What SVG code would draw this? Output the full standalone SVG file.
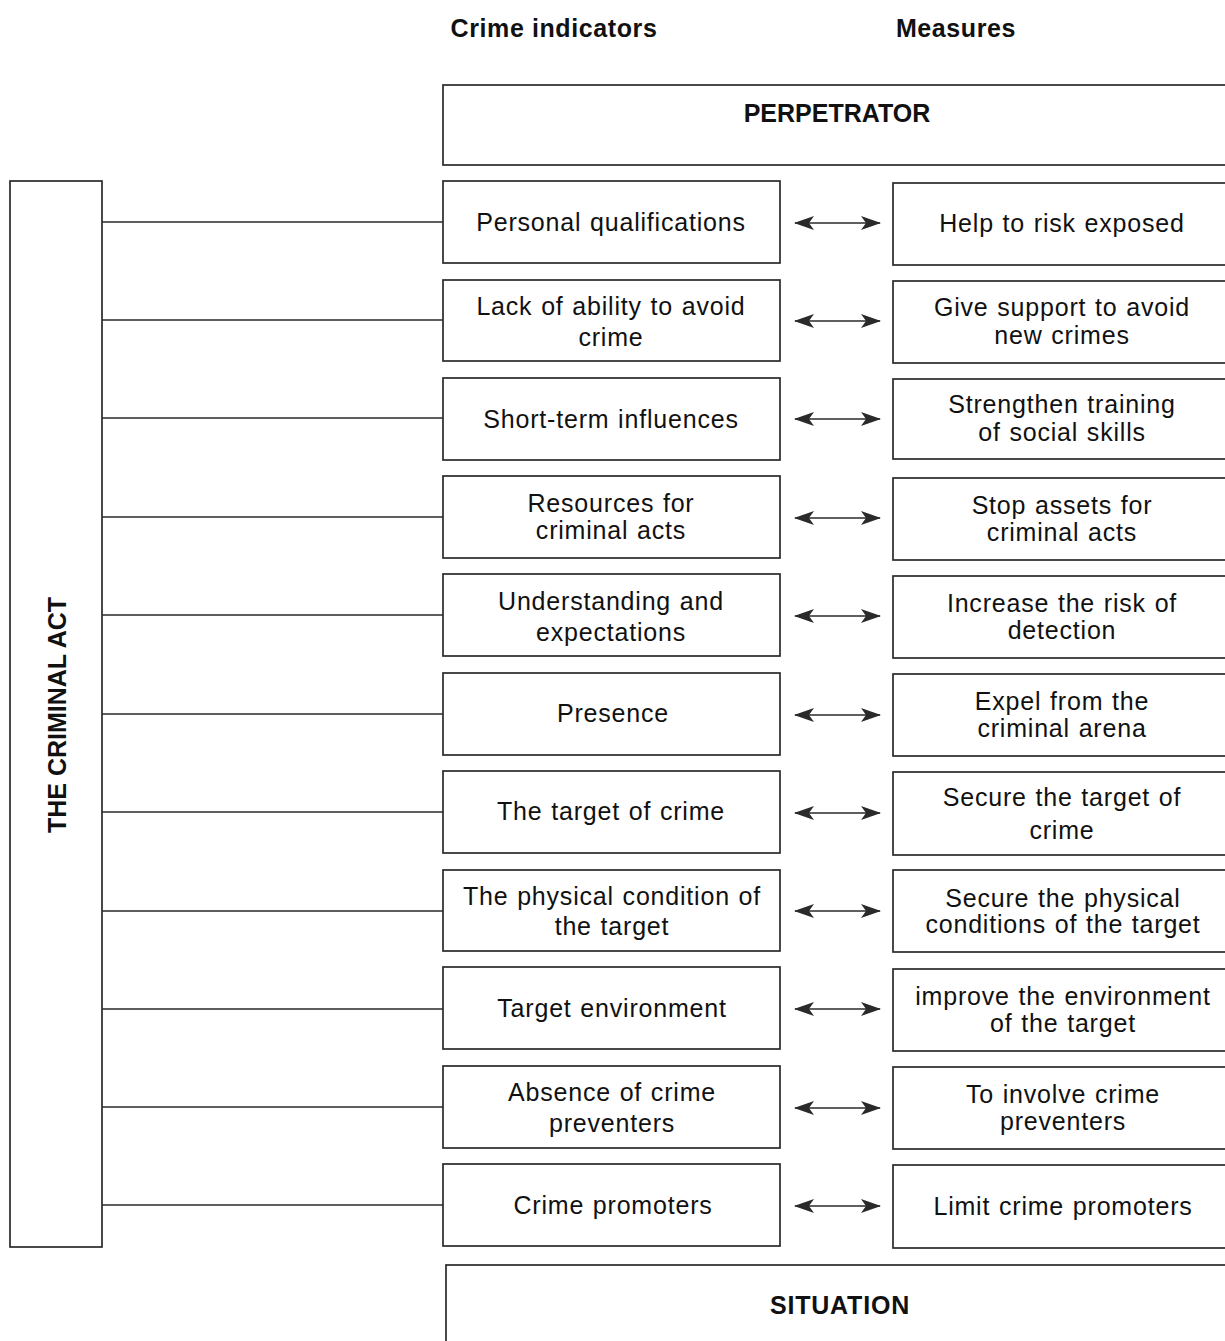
<svg xmlns="http://www.w3.org/2000/svg" width="1225" height="1341" viewBox="0 0 1225 1341">
<defs>
<style>
.box{fill:#fff;stroke:#2a2a2a;stroke-width:1.7}
.ln{stroke:#2a2a2a;stroke-width:1.7;fill:none}
.t{font-family:"Liberation Sans",Arial,sans-serif;font-size:25px;fill:#111;text-anchor:middle;word-spacing:1px;letter-spacing:0.8px}
.b{font-family:"Liberation Sans",Arial,sans-serif;font-size:25px;font-weight:bold;fill:#111;text-anchor:middle}
</style>
<marker id="ah" viewBox="0 0 20 14" refX="19" refY="7" markerWidth="20" markerHeight="14" markerUnits="userSpaceOnUse" orient="auto-start-reverse">
<path d="M0,0 L20,7 L0,14 L5,7 Z" fill="#2a2a2a"/>
</marker>
</defs>
<rect width="1225" height="1341" fill="#fff"/>
<text class="b" x="554" y="37" style="letter-spacing:0.6px">Crime indicators</text>
<text class="b" x="956" y="37" style="letter-spacing:0.6px">Measures</text>
<g id="perpetrator"><rect class="box" x="443" y="85" width="800" height="80"/><text class="b" x="837" y="122">PERPETRATOR</text></g>
<g id="situation"><rect class="box" x="446" y="1265" width="800" height="100"/><text class="b" x="840" y="1314" style="letter-spacing:0.8px">SITUATION</text></g>
<g id="criminal-act"><rect class="box" x="10" y="181" width="92" height="1066"/><text class="b" transform="translate(66,715) rotate(-90)" x="0" y="0">THE CRIMINAL ACT</text></g>
<g id="connectors">
<path class="ln" d="M102,222H443M102,320H443M102,418H443M102,517H443M102,615H443M102,714H443M102,812H443M102,911H443M102,1009H443M102,1107H443M102,1205H443"/>
<g marker-start="url(#ah)" marker-end="url(#ah)" class="ln">
<line x1="795" y1="223" x2="880" y2="223"/>
<line x1="795" y1="321" x2="880" y2="321"/>
<line x1="795" y1="419" x2="880" y2="419"/>
<line x1="795" y1="518" x2="880" y2="518"/>
<line x1="795" y1="616" x2="880" y2="616"/>
<line x1="795" y1="715" x2="880" y2="715"/>
<line x1="795" y1="813" x2="880" y2="813"/>
<line x1="795" y1="911" x2="880" y2="911"/>
<line x1="795" y1="1009" x2="880" y2="1009"/>
<line x1="795" y1="1108" x2="880" y2="1108"/>
<line x1="795" y1="1206" x2="880" y2="1206"/>
</g>
</g>
<g id="ind1"><rect class="box" x="443" y="181" width="337" height="82"/><text class="t" x="611" y="231">Personal qualifications</text></g>
<g id="ind2"><rect class="box" x="443" y="280" width="337" height="81"/><text class="t" x="611" y="315">Lack of ability to avoid</text><text class="t" x="611" y="346">crime</text></g>
<g id="ind3"><rect class="box" x="443" y="378" width="337" height="82"/><text class="t" x="611" y="428">Short-term influences</text></g>
<g id="ind4"><rect class="box" x="443" y="476" width="337" height="82"/><text class="t" x="611" y="512">Resources for</text><text class="t" x="611" y="539">criminal acts</text></g>
<g id="ind5"><rect class="box" x="443" y="574" width="337" height="82"/><text class="t" x="611" y="610">Understanding and</text><text class="t" x="611" y="641">expectations</text></g>
<g id="ind6"><rect class="box" x="443" y="673" width="337" height="82"/><text class="t" x="613" y="722">Presence</text></g>
<g id="ind7"><rect class="box" x="443" y="771" width="337" height="82"/><text class="t" x="611" y="820">The target of crime</text></g>
<g id="ind8"><rect class="box" x="443" y="870" width="337" height="81"/><text class="t" x="612" y="905">The physical condition of</text><text class="t" x="612" y="935">the target</text></g>
<g id="ind9"><rect class="box" x="443" y="967" width="337" height="82"/><text class="t" x="612" y="1017">Target environment</text></g>
<g id="ind10"><rect class="box" x="443" y="1066" width="337" height="82"/><text class="t" x="612" y="1101">Absence of crime</text><text class="t" x="612" y="1132">preventers</text></g>
<g id="ind11"><rect class="box" x="443" y="1164" width="337" height="82"/><text class="t" x="613" y="1214">Crime promoters</text></g>
<g id="mea1"><rect class="box" x="893" y="183" width="350" height="82"/><text class="t" x="1062" y="232">Help to risk exposed</text></g>
<g id="mea2"><rect class="box" x="893" y="281" width="350" height="82"/><text class="t" x="1062" y="316">Give support to avoid</text><text class="t" x="1062" y="344">new crimes</text></g>
<g id="mea3"><rect class="box" x="893" y="379" width="350" height="80"/><text class="t" x="1062" y="413">Strengthen training</text><text class="t" x="1062" y="441">of social skills</text></g>
<g id="mea4"><rect class="box" x="893" y="478" width="350" height="82"/><text class="t" x="1062" y="514">Stop assets for</text><text class="t" x="1062" y="541">criminal acts</text></g>
<g id="mea5"><rect class="box" x="893" y="576" width="350" height="82"/><text class="t" x="1062" y="612">Increase the risk of</text><text class="t" x="1062" y="639">detection</text></g>
<g id="mea6"><rect class="box" x="893" y="674" width="350" height="82"/><text class="t" x="1062" y="710">Expel from the</text><text class="t" x="1062" y="737">criminal arena</text></g>
<g id="mea7"><rect class="box" x="893" y="772" width="350" height="83"/><text class="t" x="1062" y="806">Secure the target of</text><text class="t" x="1062" y="839">crime</text></g>
<g id="mea8"><rect class="box" x="893" y="870" width="350" height="82"/><text class="t" x="1063" y="907">Secure the physical</text><text class="t" x="1063" y="933">conditions of the target</text></g>
<g id="mea9"><rect class="box" x="893" y="969" width="350" height="82"/><text class="t" x="1063" y="1005">improve the environment</text><text class="t" x="1063" y="1032">of the target</text></g>
<g id="mea10"><rect class="box" x="893" y="1067" width="350" height="82"/><text class="t" x="1063" y="1103">To involve crime</text><text class="t" x="1063" y="1130">preventers</text></g>
<g id="mea11"><rect class="box" x="893" y="1165" width="350" height="83"/><text class="t" x="1063" y="1215">Limit crime promoters</text></g>
</svg>
